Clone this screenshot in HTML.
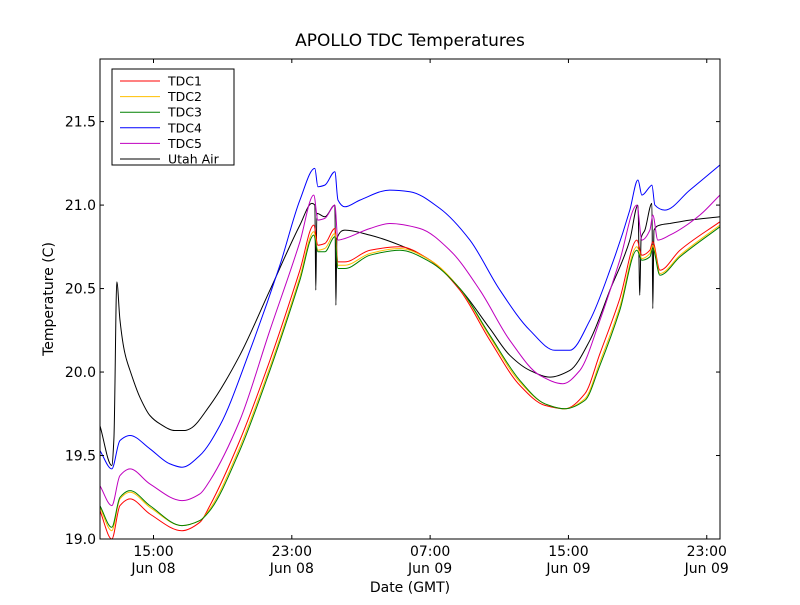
<!DOCTYPE html>
<html><head><meta charset="utf-8"><style>
body{margin:0;background:#fff;font-family:"Liberation Sans","DejaVu Sans",sans-serif}
svg text{font-family:"DejaVu Sans","Liberation Sans",sans-serif}
</style></head><body>
<svg id="chart" width="800" height="600" xmlns="http://www.w3.org/2000/svg">
<rect width="800" height="600" fill="#fff"/>
<text x="410" y="46" text-anchor="middle" font-size="17">APOLLO TDC Temperatures</text>
<text x="410" y="592" text-anchor="middle" font-size="14">Date (GMT)</text>
<text transform="translate(53,299) rotate(-90)" text-anchor="middle" font-size="14">Temperature (C)</text>
<g id="plot"></g>
<g id="axes"></g>
<g id="legend">
<rect x="112" y="69" width="122" height="96" fill="#fff" stroke="#000" stroke-width="1"/>
</g>
</svg>
<script>
const xTicks=[15,23,31,39,47];
const xTickLabels=[["15:00","Jun 08"],["23:00","Jun 08"],["07:00","Jun 09"],["15:00","Jun 09"],["23:00","Jun 09"]];
const yTicks=[19.0,19.5,20.0,20.5,21.0,21.5];
const seriesNames=["TDC1","TDC2","TDC3","TDC4","TDC5","Utah Air"];
const seriesColors=["#ff0000","#ffbf00","#008000","#0000ff","#bf00bf","#000000"];
const tUtah=[11.90,12.59,12.71,12.88,13.06,13.35,13.64,14.21,14.79,15.37,16.24,16.82,17.11,18.26,19.99,21.73,23.47,24.16,24.33,24.39,24.45,24.91,25.49,25.55,25.61,26.07,27.52,29.25,31.0,32.72,34.46,35.61,36.77,37.93,39.08,40.24,41.4,42.55,43.02,43.13,43.2,43.42,43.83,43.88,43.95,44.29,44.87,46.02,47.76];
const vUtah=[19.68,19.44,19.60,20.54,20.31,20.11,20.01,19.85,19.74,19.69,19.65,19.65,19.66,19.80,20.10,20.49,20.88,21.01,21.0,20.49,20.95,20.93,21.0,20.40,20.80,20.85,20.82,20.76,20.67,20.50,20.26,20.10,20.01,19.97,20.01,20.19,20.49,20.79,21.0,20.46,20.8,20.85,21.01,20.38,20.85,20.88,20.89,20.91,20.93];
const tTdc4=[11.90,12.59,13.06,13.64,14.79,15.95,16.65,17.68,18.84,20.58,22.31,23.47,24.33,24.51,24.91,25.49,25.67,26.07,26.94,28.67,29.83,31.56,33.3,35.04,36.77,38.22,39.08,40.24,41.4,42.55,43.02,43.25,43.71,43.83,44.0,44.58,46.02,47.76];
const vTdc4=[19.53,19.42,19.59,19.62,19.54,19.45,19.43,19.50,19.68,20.13,20.64,21.03,21.22,21.11,21.12,21.20,21.03,20.99,21.03,21.09,21.08,20.98,20.79,20.49,20.25,20.13,20.13,20.31,20.61,20.97,21.15,21.06,21.11,21.12,21.0,20.97,21.09,21.24];
const tTdc5=[11.90,12.59,13.06,13.64,14.79,16.65,17.68,18.26,19.99,21.73,23.47,24.27,24.51,24.91,25.49,25.67,26.07,27.52,28.67,30.41,32.14,33.88,35.61,37.35,38.68,39.66,40.82,41.97,42.96,43.25,43.71,43.88,44.17,44.87,46.6,47.76];
const vTdc5=[19.32,19.20,19.38,19.42,19.33,19.23,19.27,19.35,19.71,20.25,20.78,21.06,20.91,20.92,21.0,20.79,20.80,20.86,20.89,20.86,20.73,20.49,20.19,19.98,19.93,20.01,20.31,20.67,21.0,20.79,20.85,20.94,20.79,20.82,20.94,21.06];
const tTdc1=[11.90,12.59,13.06,13.64,14.79,16.65,17.68,18.26,19.99,21.73,23.47,24.27,24.51,24.91,25.49,25.67,26.07,27.52,29.25,31.0,32.72,34.46,36.19,37.64,38.79,39.95,40.82,41.97,42.96,43.25,43.71,43.88,44.29,45.45,47.76];
const vTdc1=[19.17,19.0,19.20,19.24,19.15,19.05,19.10,19.20,19.59,20.07,20.61,20.88,20.76,20.77,20.86,20.66,20.66,20.73,20.75,20.67,20.49,20.19,19.92,19.80,19.78,19.87,20.11,20.44,20.79,20.70,20.73,20.78,20.61,20.73,20.90];
const vTdc2=[19.19,19.05,19.24,19.28,19.19,19.08,19.11,19.18,19.55,20.03,20.57,20.84,20.73,20.74,20.83,20.64,20.64,20.71,20.74,20.67,20.50,20.21,19.94,19.81,19.78,19.84,20.06,20.39,20.75,20.68,20.71,20.76,20.59,20.70,20.88];
const vTdc3=[19.20,19.07,19.25,19.29,19.20,19.08,19.11,19.17,19.53,20.01,20.55,20.82,20.72,20.72,20.81,20.62,20.62,20.70,20.73,20.66,20.50,20.22,19.95,19.81,19.78,19.83,20.04,20.37,20.73,20.67,20.69,20.74,20.58,20.69,20.87];
const NS="http://www.w3.org/2000/svg";
const L=100,R=720,T=59,B=539,X0=11.906,X1=47.766,Y0=19.0,Y1=21.875;
const sx=h=>L+(h-X0)/(X1-X0)*(R-L);
const sy=v=>B-(v-Y0)/(Y1-Y0)*(B-T);
function mk(tag,attrs,parent){const e=document.createElementNS(NS,tag);for(const k in attrs)e.setAttribute(k,attrs[k]);parent.appendChild(e);return e;}
function monoPath(xs,ys){
  const n=xs.length,d=[],m=[];
  for(let i=0;i<n-1;i++)d.push((ys[i+1]-ys[i])/(xs[i+1]-xs[i]));
  for(let i=0;i<n;i++){
    if(i===0)m.push(d[0]);else if(i===n-1)m.push(d[n-2]);
    else if(d[i-1]*d[i]<=0)m.push(0);
    else{const h0=xs[i]-xs[i-1],h1=xs[i+1]-xs[i];const w1=2*h1+h0,w2=h1+2*h0;m.push((w1+w2)/(w1/d[i-1]+w2/d[i]));}
  }
  let p='M'+xs[0].toFixed(1)+','+ys[0].toFixed(1);
  for(let i=0;i<n-1;i++){
    const h=(xs[i+1]-xs[i])/3;
    p+='C'+(xs[i]+h).toFixed(1)+','+(ys[i]+m[i]*h).toFixed(1)+' '+(xs[i+1]-h).toFixed(1)+','+(ys[i+1]-m[i+1]*h).toFixed(1)+' '+xs[i+1].toFixed(1)+','+ys[i+1].toFixed(1);
  }
  return p;
}
const plot=document.getElementById('plot'),axes=document.getElementById('axes'),leg=document.getElementById('legend');
const series=[[tTdc1,vTdc1],[tTdc1,vTdc2],[tTdc1,vTdc3],[tTdc4,vTdc4],[tTdc5,vTdc5],[tUtah,vUtah]];
const order=[5,4,3,0,1,2];
order.forEach(i=>{
  const [t,v]=series[i];
  const p=mk('path',{d:monoPath(t.map(sx),v.map(sy)),fill:'none',stroke:seriesColors[i],'stroke-width':1,'stroke-linejoin':'round'},plot);
  
  
});
const frame=mk('rect',{x:L,y:T,width:R-L,height:B-T,fill:'none',stroke:'#000','stroke-width':1},axes);


xTicks.forEach((h,i)=>{
  const x=sx(h);
  mk('line',{x1:x,x2:x,y1:B,y2:B-4,stroke:'#000'},axes);
  mk('line',{x1:x,x2:x,y1:T,y2:T+4,stroke:'#000'},axes);
  const t1=mk('text',{x:x,y:B+17,'text-anchor':'middle','font-size':14},axes);t1.textContent=xTickLabels[i][0];
  
  
  const t2=mk('text',{x:x,y:B+34,'text-anchor':'middle','font-size':14},axes);t2.textContent=xTickLabels[i][1];
  
  
});
yTicks.forEach(v=>{
  const y=sy(v);
  mk('line',{x1:L,x2:L+4,y1:y,y2:y,stroke:'#000'},axes);
  mk('line',{x1:R,x2:R-4,y1:y,y2:y,stroke:'#000'},axes);
  const t=mk('text',{x:L-4,y:y+5,'text-anchor':'end','font-size':14},axes);t.textContent=v.toFixed(1);
  
  
});
seriesNames.forEach((n,i)=>{
  const y=81+i*15.6;
  const g=mk('g',{},leg);
  
  
  mk('line',{x1:120,x2:160,y1:y,y2:y,stroke:seriesColors[i],'stroke-width':1},g);
  const t=mk('text',{x:168,y:y+4.5,'font-size':12.5},g);t.textContent=n;
});
</script>
</body></html>
